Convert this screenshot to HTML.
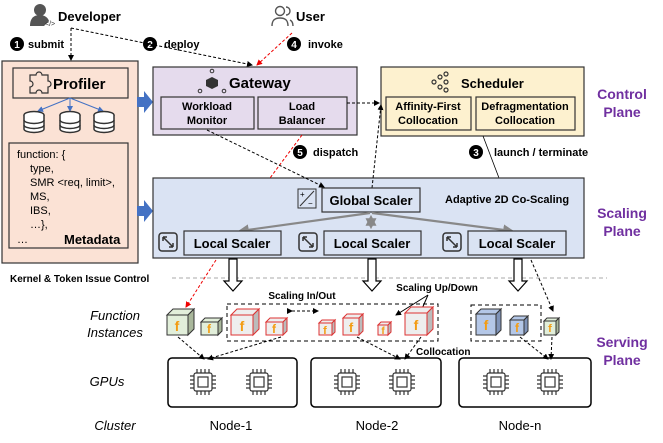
<!DOCTYPE html>
<html><head><meta charset="utf-8"><style>
html,body{margin:0;padding:0;background:#fff}
svg{display:block}
text{font-family:"Liberation Sans",Arial,sans-serif}
.b{font-weight:bold}
</style></head><body>
<svg width="663" height="443" viewBox="0 0 663 443" xmlns="http://www.w3.org/2000/svg">
<defs>
<marker id="ak" markerWidth="6" markerHeight="6" refX="5" refY="3" orient="auto"><path d="M0,0 L6,3 L0,6 z" fill="#000"/></marker>
<marker id="ar" markerWidth="6" markerHeight="6" refX="5" refY="3" orient="auto"><path d="M0,0 L6,3 L0,6 z" fill="#e00"/></marker>
<marker id="ab" markerWidth="6" markerHeight="6" refX="5" refY="3" orient="auto"><path d="M0,0 L6,3 L0,6 z" fill="#4472c4"/></marker>
<marker id="ag" markerWidth="5" markerHeight="5" refX="4" refY="2.5" orient="auto"><path d="M0,0 L5,2.5 L0,5 z" fill="#888"/></marker>
<marker id="ags" markerWidth="5" markerHeight="5" refX="1" refY="2.5" orient="auto"><path d="M5,0 L0,2.5 L5,5 z" fill="#888"/></marker>
<g id="chip" fill="none" stroke="#333" stroke-width="1.2">
<rect x="-9" y="-9" width="18" height="18" rx="2"/><rect x="-5" y="-5" width="10" height="10"/>
<path d="M-6,-9v-4M-2,-9v-4M2,-9v-4M6,-9v-4M-6,9v4M-2,9v4M2,9v4M6,9v4M-9,-6h-4M-9,-2h-4M-9,2h-4M-9,6h-4M9,-6h4M9,-2h4M9,2h4M9,6h4"/>
</g>
<g id="db" fill="#fff" stroke="#333" stroke-width="1.5">
<ellipse cx="0" cy="-7" rx="10" ry="3.5"/>
<path d="M-10,-7v14a10,3.5 0 0 0 20,0v-14"/>
<path d="M-10,-2a10,3.5 0 0 0 20,0M-10,3a10,3.5 0 0 0 20,0" fill="none"/>
</g>
<g id="exp" fill="none" stroke="#333" stroke-width="1.5">
<rect x="0" y="0" width="18" height="18" rx="3"/>
<path d="M4,4l5,5M4,4h4M4,4v4M14,14l-5,-5M14,14h-4M14,14v-4"/>
</g>
</defs>

<circle cx="40" cy="10" r="6" fill="#555"/><path d="M30,26c0,-9 5,-11 10,-11s8,3 9,6l-5,5z" fill="#555"/>
<text x="45" y="26" font-size="7" fill="#333">&lt;/&gt;</text>
<text x="58" y="21" font-size="13" class="b">Developer</text>
<g fill="none" stroke="#555" stroke-width="1.4"><circle cx="280" cy="11" r="4.5"/><path d="M272,26c0,-6 3,-8 8,-8s8,2 8,8"/><path d="M286,7a4,4 0 0 1 0,8M290,20c2,1 3,3 3,6"/></g>
<text x="296" y="21" font-size="13" class="b">User</text>

<circle cx="17" cy="44" r="7" fill="#000"/><text x="17" y="48" font-size="10" fill="#fff" text-anchor="middle" class="b">1</text>
<text x="28" y="48" font-size="11" class="b">submit</text>
<circle cx="150" cy="44" r="7" fill="#000"/><text x="150" y="48" font-size="10" fill="#fff" text-anchor="middle" class="b">2</text>
<text x="164" y="48" font-size="11" class="b">deploy</text>
<circle cx="294" cy="44" r="7" fill="#000"/><text x="294" y="48" font-size="10" fill="#fff" text-anchor="middle" class="b">4</text>
<text x="308" y="48" font-size="11" class="b">invoke</text>

<path d="M71,28v32" stroke="#000" stroke-dasharray="3,2" fill="none" marker-end="url(#ak)"/>
<path d="M71,28L252,65" stroke="#000" stroke-dasharray="3,2" fill="none" marker-end="url(#ak)"/>
<path d="M292,33L257,65" stroke="#e00" stroke-dasharray="3,2" fill="none" marker-end="url(#ar)"/>

<rect x="2" y="61" width="136" height="202" fill="#fbe2d5" stroke="#333" stroke-width="1.2"/>
<rect x="13" y="68" width="115" height="30" fill="#fbe2d5" stroke="#333" stroke-width="1.2"/>
<path d="M30,75h6a3,3 0 0 1 6,0h6v6a3,3 0 0 1 0,6v6h-6a3,3 0 0 0 -6,0h-6v-6a3,3 0 0 0 0,-6z" fill="none" stroke="#333" stroke-width="1.2"/>
<text x="53" y="89" font-size="15" class="b">Profiler</text>
<g stroke="#4472c4" fill="none"><path d="M70,98L38,111" marker-end="url(#ab)"/><path d="M70,98V111" marker-end="url(#ab)"/><path d="M70,98L103,111" marker-end="url(#ab)"/></g>
<use href="#db" x="34" y="122"/><use href="#db" x="70" y="122"/><use href="#db" x="104" y="122"/>
<rect x="9" y="143" width="119" height="105" fill="#fbe2d5" stroke="#333" stroke-width="1.2"/>
<g font-size="11"><text x="17" y="158">function: {</text><text x="30" y="172">type,</text><text x="30" y="186">SMR &lt;req, limit&gt;,</text><text x="30" y="200">MS,</text><text x="30" y="214">IBS,</text><text x="30" y="228">…},</text><text x="17" y="243">…</text></g>
<text x="64" y="244" font-size="13" class="b">Metadata</text>

<path d="M137,97h7v-6l9,11l-9,11v-6h-7z" fill="#4472c4"/>
<path d="M137,206h7v-6l9,11l-9,11v-6h-7z" fill="#4472c4"/>

<rect x="153" y="67" width="204" height="68" fill="#e5dbed" stroke="#333" stroke-width="1.2"/>
<g fill="#333"><path d="M206,80l6,-3l6,3v6l-6,3l-6,-3z"/><circle cx="212" cy="71" r="1.8" fill="none" stroke="#333"/><circle cx="200" cy="91" r="1.8" fill="none" stroke="#333"/><circle cx="224" cy="91" r="1.8" fill="none" stroke="#333"/></g>
<text x="229" y="88" font-size="15" class="b">Gateway</text>
<rect x="161" y="97" width="93" height="32" fill="#e5dbed" stroke="#333" stroke-width="1.2"/>
<text x="207" y="110" font-size="11" class="b" text-anchor="middle">Workload</text><text x="207" y="124" font-size="11" class="b" text-anchor="middle">Monitor</text>
<rect x="258" y="97" width="89" height="32" fill="#e5dbed" stroke="#333" stroke-width="1.2"/>
<text x="302" y="110" font-size="11" class="b" text-anchor="middle">Load</text><text x="302" y="124" font-size="11" class="b" text-anchor="middle">Balancer</text>

<rect x="381" y="67" width="203" height="69" fill="#fdf1cf" stroke="#333" stroke-width="1.2"/>
<g fill="none" stroke="#333" stroke-width="1.2"><circle cx="434" cy="82" r="2"/><circle cx="440" cy="77" r="2"/><circle cx="440" cy="87" r="2"/><circle cx="446" cy="74" r="2"/><circle cx="446" cy="82" r="2"/><circle cx="446" cy="90" r="2"/></g>
<text x="461" y="88" font-size="13" class="b">Scheduler</text>
<rect x="386" y="97" width="85" height="33" fill="#fdf1cf" stroke="#333" stroke-width="1.2"/>
<text x="428" y="110" font-size="11" class="b" text-anchor="middle">Affinity-First</text><text x="428" y="124" font-size="11" class="b" text-anchor="middle">Collocation</text>
<rect x="476" y="97" width="99" height="33" fill="#fdf1cf" stroke="#333" stroke-width="1.2"/>
<text x="525" y="110" font-size="11" class="b" text-anchor="middle">Defragmentation</text><text x="525" y="124" font-size="11" class="b" text-anchor="middle">Collocation</text>
<path d="M347,103H379" stroke="#000" stroke-dasharray="3,2" fill="none" marker-end="url(#ak)"/>

<text x="622" y="99" font-size="14" class="b" fill="#7030a0" text-anchor="middle">Control</text>
<text x="622" y="117" font-size="14" class="b" fill="#7030a0" text-anchor="middle">Plane</text>

<circle cx="300" cy="152" r="7" fill="#000"/><text x="300" y="156" font-size="10" fill="#fff" text-anchor="middle" class="b">5</text>
<text x="313" y="156" font-size="11" class="b">dispatch</text>
<circle cx="476" cy="152" r="7" fill="#000"/><text x="476" y="156" font-size="10" fill="#fff" text-anchor="middle" class="b">3</text>
<text x="494" y="156" font-size="11" class="b">launch / terminate</text>
<path d="M483,136L499,178" stroke="#000" stroke-width="0.8" fill="none"/>

<rect x="153" y="178" width="431" height="80" fill="#dae3f3" stroke="#333" stroke-width="1.2"/>
<path d="M302,135L270,178" stroke="#e00" stroke-dasharray="3,2" fill="none"/>
<path d="M207,130L324,187" stroke="#000" stroke-dasharray="3,2" fill="none" marker-end="url(#ak)"/>
<path d="M372,188L381,105" stroke="#000" stroke-dasharray="3,2" fill="none" marker-end="url(#ak)"/>
<rect x="298" y="189" width="18" height="19" fill="#dae3f3" stroke="#333"/>
<path d="M300,206L314,191" stroke="#333"/><text x="300" y="197" font-size="8">+</text><text x="308" y="206" font-size="8">−</text>
<rect x="322" y="188" width="98" height="24" fill="#dae3f3" stroke="#333" stroke-width="1.2"/>
<text x="371" y="205" font-size="13" class="b" text-anchor="middle">Global Scaler</text>
<text x="445" y="203" font-size="11" class="b">Adaptive 2D Co-Scaling</text>
<g stroke="#888" stroke-width="2.2" fill="none"><path d="M370,213L240,231" marker-end="url(#ag)"/><path d="M372,213L512,231" marker-end="url(#ag)"/><path d="M371,217V227" marker-end="url(#ag)" marker-start="url(#ags)"/></g>
<use href="#exp" x="159" y="233"/><use href="#exp" x="299" y="233"/><use href="#exp" x="443" y="233"/>
<rect x="184" y="231" width="97" height="24" fill="#dae3f3" stroke="#333" stroke-width="1.2"/>
<text x="232" y="248" font-size="13" class="b" text-anchor="middle">Local Scaler</text>
<rect x="324" y="231" width="97" height="24" fill="#dae3f3" stroke="#333" stroke-width="1.2"/>
<text x="372" y="248" font-size="13" class="b" text-anchor="middle">Local Scaler</text>
<rect x="468" y="231" width="98" height="24" fill="#dae3f3" stroke="#333" stroke-width="1.2"/>
<text x="517" y="248" font-size="13" class="b" text-anchor="middle">Local Scaler</text>
<text x="622" y="218" font-size="14" class="b" fill="#7030a0" text-anchor="middle">Scaling</text>
<text x="622" y="236" font-size="14" class="b" fill="#7030a0" text-anchor="middle">Plane</text>

<text x="10" y="282" font-size="10" class="b">Kernel &amp; Token Issue Control</text>
<path d="M172,278H607" stroke="#aaa" stroke-dasharray="4,3"/>
<g fill="#fff" stroke="#000" stroke-width="1.2">
<path d="M229,259h8v22h5l-9,10l-9,-10h5z"/><path d="M368,259h8v22h5l-9,10l-9,-10h5z"/><path d="M514,259h8v22h5l-9,10l-9,-10h5z"/>
</g>
<path d="M216,260L186,307" stroke="#e00" stroke-dasharray="3,2" fill="none" marker-end="url(#ar)"/>
<path d="M531,260L553,311" stroke="#000" stroke-dasharray="3,2" fill="none" marker-end="url(#ak)"/>

<text x="115" y="320" font-size="13" font-style="italic" text-anchor="middle">Function</text>
<text x="115" y="337" font-size="13" font-style="italic" text-anchor="middle">Instances</text>
<rect x="227" y="304" width="211" height="37" fill="none" stroke="#000" stroke-dasharray="4,3"/>
<rect x="471" y="305" width="70" height="36" fill="none" stroke="#000" stroke-dasharray="4,3"/>
<text x="302" y="299" font-size="10" class="b" text-anchor="middle">Scaling In/Out</text>
<path d="M292,311H318" stroke="#000" stroke-dasharray="3,2" marker-end="url(#ak)" marker-start="url(#ak)"/>
<text x="437" y="291" font-size="10" class="b" text-anchor="middle">Scaling Up/Down</text>
<path d="M428,295L396,315" stroke="#000" marker-end="url(#ak)"/><path d="M428,295L418,318" stroke="#000" marker-end="url(#ak)"/>

<g font-family="Liberation Sans" font-weight="bold" fill="#f39c12">
<g stroke="#333"><path d="M167,315l6,-6h21l-6,6z" fill="#e2efda"/><path d="M188,315l6,-6v20l-6,6z" fill="#a9b79b"/><rect x="167" y="315" width="21" height="20" fill="#e2efda"/></g><text x="177" y="331" font-size="14" text-anchor="middle">f</text>
<g stroke="#333"><path d="M201,322l4,-4h17l-4,4z" fill="#e2efda"/><path d="M218,322l4,-4v13l-4,4z" fill="#a9b79b"/><rect x="201" y="322" width="17" height="13" fill="#e2efda"/></g><text x="209" y="333" font-size="12" text-anchor="middle">f</text>
<g stroke="#d33"><path d="M231,315l6,-6h22l-6,6z" fill="#eee"/><path d="M253,315l6,-6v20l-6,6z" fill="#bbb"/><rect x="231" y="315" width="22" height="20" fill="#eee"/></g><text x="242" y="331" font-size="14" text-anchor="middle">f</text>
<g stroke="#d33"><path d="M266,322l4,-4h17l-4,4z" fill="#eee"/><path d="M283,322l4,-4v13l-4,4z" fill="#bbb"/><rect x="266" y="322" width="17" height="13" fill="#eee"/></g><text x="274" y="333" font-size="12" text-anchor="middle">f</text>
<g stroke="#d33"><path d="M319,323l3,-3h13l-3,3z" fill="#eee"/><path d="M332,323l3,-3v12l-3,3z" fill="#bbb"/><rect x="319" y="323" width="13" height="12" fill="#eee"/></g><text x="325" y="334" font-size="11" text-anchor="middle">f</text>
<g stroke="#d33"><path d="M343,318l4,-4h16l-4,4z" fill="#eee"/><path d="M359,318l4,-4v17l-4,4z" fill="#bbb"/><rect x="343" y="318" width="16" height="17" fill="#eee"/></g><text x="351" y="332" font-size="13" text-anchor="middle">f</text>
<g stroke="#d33"><path d="M378,325l3,-3h10l-3,3z" fill="#eee"/><path d="M388,325l3,-3v10l-3,3z" fill="#bbb"/><rect x="378" y="325" width="10" height="10" fill="#eee"/></g><text x="383" y="334" font-size="10" text-anchor="middle">f</text>
<g stroke="#d33"><path d="M405,313l6,-6h22l-6,6z" fill="#eee"/><path d="M427,313l6,-6v22l-6,6z" fill="#bbb"/><rect x="405" y="313" width="22" height="22" fill="#eee"/></g><text x="416" y="330" font-size="14" text-anchor="middle">f</text>
<g stroke="#333"><path d="M476,314l5,-5h20l-5,5z" fill="#b4c7e7"/><path d="M496,314l5,-5v21l-5,5z" fill="#7f93b8"/><rect x="476" y="314" width="20" height="21" fill="#b4c7e7"/></g><text x="486" y="330" font-size="14" text-anchor="middle">f</text>
<g stroke="#333"><path d="M510,320l4,-4h14l-4,4z" fill="#b4c7e7"/><path d="M524,320l4,-4v15l-4,4z" fill="#7f93b8"/><rect x="510" y="320" width="14" height="15" fill="#b4c7e7"/></g><text x="517" y="332" font-size="12" text-anchor="middle">f</text>
<g stroke="#333"><path d="M544,321l3,-3h12l-3,3z" fill="#e2efda"/><path d="M556,321l3,-3v14l-3,3z" fill="#a9b79b"/><rect x="544" y="321" width="12" height="14" fill="#e2efda"/></g><text x="550" y="332" font-size="11" text-anchor="middle">f</text>
</g>

<g stroke="#000" stroke-dasharray="3,2" fill="none">
<path d="M178,337L204,359" marker-end="url(#ak)"/>
<path d="M281,337L208,359" marker-end="url(#ak)"/>
<path d="M357,337L400,359" marker-end="url(#ak)"/>
<path d="M421,337L405,359" marker-end="url(#ak)"/>
<path d="M520,337L548,359" marker-end="url(#ak)"/>
<path d="M552,337L551,359" marker-end="url(#ak)"/>
</g>
<text x="416" y="355" font-size="10" class="b">Collocation</text>
<text x="622" y="347" font-size="14" class="b" fill="#7030a0" text-anchor="middle">Serving</text>
<text x="622" y="365" font-size="14" class="b" fill="#7030a0" text-anchor="middle">Plane</text>

<text x="107" y="386" font-size="13" font-style="italic" text-anchor="middle">GPUs</text>
<rect x="168" y="358" width="129" height="49" rx="4" fill="none" stroke="#000" stroke-width="1.5"/>
<rect x="311" y="358" width="130" height="49" rx="4" fill="none" stroke="#000" stroke-width="1.5"/>
<rect x="459" y="358" width="132" height="49" rx="4" fill="none" stroke="#000" stroke-width="1.5"/>
<use href="#chip" x="203" y="382"/><use href="#chip" x="259" y="382"/>
<use href="#chip" x="347" y="382"/><use href="#chip" x="402" y="382"/>
<use href="#chip" x="496" y="382"/><use href="#chip" x="550" y="382"/>

<text x="115" y="430" font-size="13" font-style="italic" text-anchor="middle">Cluster</text>
<text x="231" y="430" font-size="13" text-anchor="middle">Node-1</text>
<text x="377" y="430" font-size="13" text-anchor="middle">Node-2</text>
<text x="520" y="430" font-size="13" text-anchor="middle">Node-n</text>
</svg>
</body></html>
